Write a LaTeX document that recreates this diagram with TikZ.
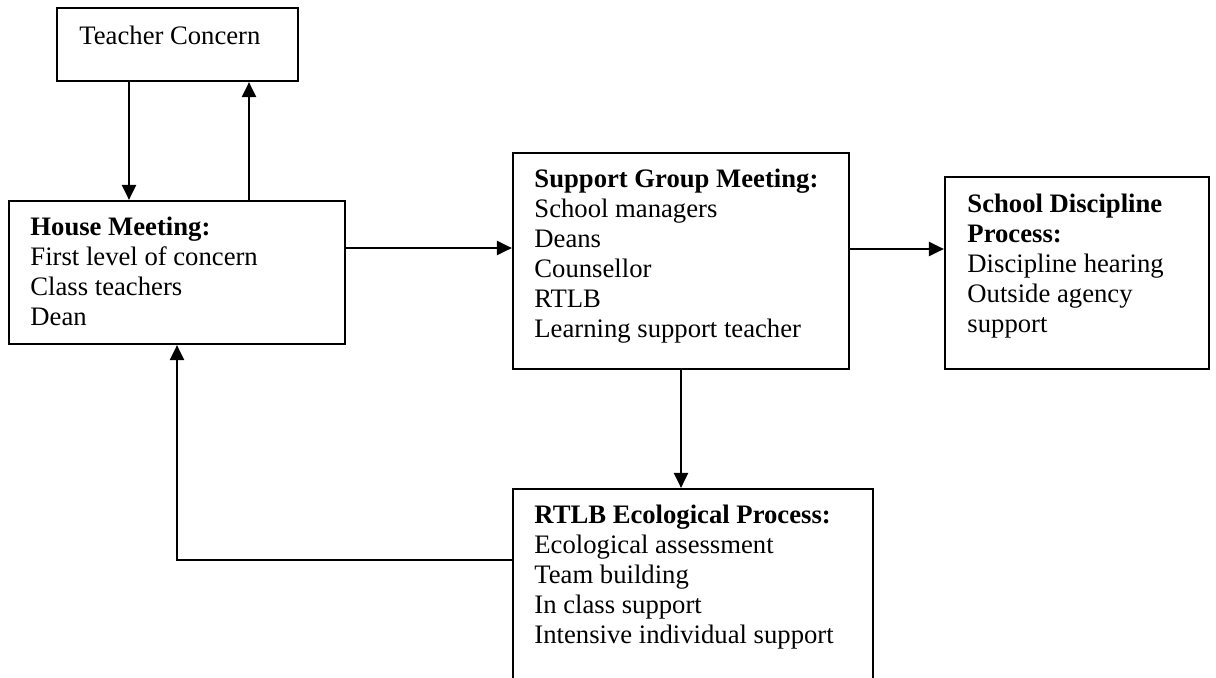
\documentclass[tikz,border=0pt]{standalone}
\usepackage{fontspec}
\setmainfont{Liberation Serif}
\usetikzlibrary{arrows.meta}
\newcommand\pxu{0.45pt}
\tikzset{
  box/.style={draw, line width=0.9pt, inner sep=0pt, rectangle},
  txt/.style={anchor=base west, inner sep=0pt, font=\fontsize{12}{13.5}\selectfont},
  arr/.style={line width=1.3pt, -{Triangle[length=6.8pt, width=6.2pt]}}
}
\begin{document}
\begin{tikzpicture}[x=\pxu, y=-\pxu]
\useasboundingbox (0,0) rectangle (1216,677);
\clip (0,0) rectangle (1216,677);

% boxes
\node[box, minimum width=241*\pxu, minimum height=73*\pxu]  (tc) at (177.5,44.5) {};
\node[box, minimum width=336*\pxu, minimum height=143*\pxu] (hm) at (177,272.5) {};
\node[box, minimum width=336*\pxu, minimum height=216*\pxu] (sg) at (681,261) {};
\node[box, minimum width=264*\pxu, minimum height=192*\pxu] (sd) at (1077,273) {};
\node[box, minimum width=360*\pxu, minimum height=211*\pxu] (re) at (693,594.5) {};

% box texts
\node[txt] (tct) at (79,44) {Teacher Concern};
\node[txt] (hmt) at (30,235) {\vtop{\hbox{\textbf{House Meeting:}}\hbox{First level of concern}\hbox{Class teachers}\hbox{Dean}}};
\node[txt] (sgt) at (534,187) {\vtop{\hbox{\textbf{Support Group Meeting:}}\hbox{School managers}\hbox{Deans}\hbox{Counsellor}\hbox{RTLB}\hbox{Learning support teacher}}};
\node[txt] (sdt) at (967,212) {\vtop{\hbox{\textbf{School Discipline}}\hbox{\textbf{Process:}}\hbox{Discipline hearing}\hbox{Outside agency}\hbox{support}}};
\node[txt] (ret) at (534,523) {\vtop{\hbox{\textbf{RTLB Ecological Process:}}\hbox{Ecological assessment}\hbox{Team building}\hbox{In class support}\hbox{Intensive individual support}}};

% connector guide positions
\coordinate (xdown) at (129,0);
\coordinate (xup) at (249,0);
\coordinate (yhs) at (0,248);
\coordinate (ysd) at (0,249);
\coordinate (yback) at (0,560);
\coordinate (xback) at (177,0);

% connectors
\draw[arr] (xdown |- tc.south) -- (xdown |- hm.north);
\draw[arr] (xup |- hm.north) -- (xup |- tc.south);
\draw[arr] (hm.east |- yhs) -- (sg.west |- yhs);
\draw[arr] (sg.east |- ysd) -- (sd.west |- ysd);
\draw[arr] (sg.south) -- (sg.south |- re.north);
\draw[arr] (re.west |- yback) -| (xback |- hm.south);
\end{tikzpicture}
\end{document}
